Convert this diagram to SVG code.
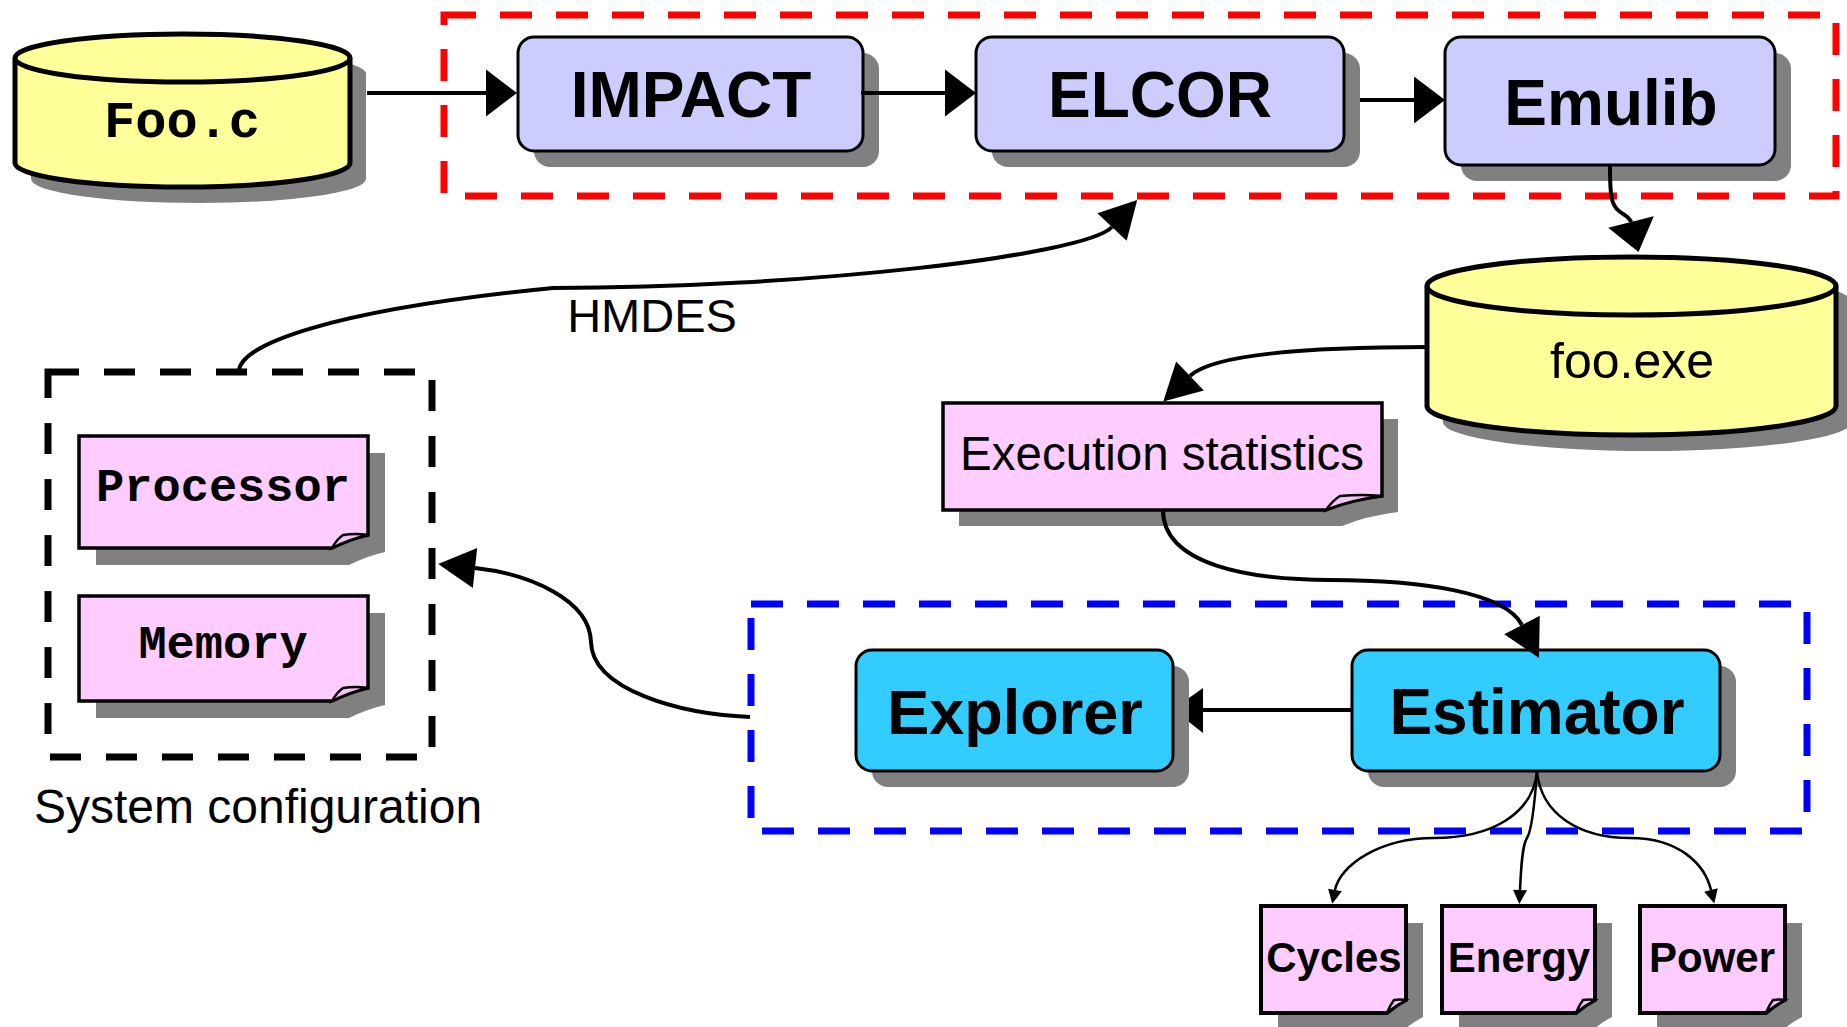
<svg xmlns="http://www.w3.org/2000/svg" width="1847" height="1027" viewBox="0 0 1847 1027">
<style>
.shadow{fill:#808080;stroke:none}
.proc{fill:#CCCCFF;stroke:#000;stroke-width:3}
.est{fill:#33CCFF;stroke:#000;stroke-width:3}
.cyl{fill:#FFFF99;stroke:#000;stroke-width:5}
.note{fill:#FFCCFF;stroke:#000;stroke-width:3.5;stroke-linejoin:miter}
.fold{fill:#F4C4F4;stroke:#000;stroke-width:2.5}
.b{font-family:"Liberation Sans",Arial,sans-serif;font-weight:bold;text-anchor:middle;fill:#000}
.r{font-family:"Liberation Sans",Arial,sans-serif;text-anchor:middle;fill:#000}
.m{font-family:"Liberation Mono","Courier New",monospace;font-weight:bold;text-anchor:middle;fill:#000}
.conn{fill:none;stroke:#000;stroke-width:4}
.thin{fill:none;stroke:#000;stroke-width:2.5}
.grp{fill:none;stroke-width:7}
</style>
<defs>
<marker id="ah" markerUnits="userSpaceOnUse" refX="0" refY="0" markerWidth="40" markerHeight="50" orient="auto" overflow="visible"><path d="M0,-23.5 L31,0 L0,23.5 Z" fill="#000"/></marker>
<marker id="ahc" markerUnits="userSpaceOnUse" refX="0" refY="0" markerWidth="40" markerHeight="50" orient="auto" overflow="visible"><path d="M0,-20 L37,0 L0,20 Z" fill="#000"/></marker>
<marker id="ahs" markerUnits="userSpaceOnUse" refX="0" refY="0" markerWidth="20" markerHeight="20" orient="auto" overflow="visible"><path d="M0,-7 L14,0 L0,7 Z" fill="#000"/></marker>
</defs>

<g id="groups">
<rect id="compiler-group" class="grp" x="444" y="15" width="1392" height="181" stroke="#FF0000" stroke-dasharray="32 24"/>
<rect id="explore-group" class="grp" x="751" y="604" width="1056" height="227" stroke="#0000FF" stroke-dasharray="32 24"/>
<rect id="sysconf-group" class="grp" x="48" y="372" width="384" height="385" stroke="#000" stroke-dasharray="31 25"/>
</g>

<g id="foo-c">
<path class="shadow" transform="translate(16,16)" d="M15,58 A167.5,24 0 0 1 350,58 V163 A167.5,24 0 0 1 15,163 Z"/>
<path class="cyl" d="M15,58 A167.5,24 0 0 1 350,58 V163 A167.5,24 0 0 1 15,163 Z"/>
<path class="cyl" style="fill:none" d="M15,58 A167.5,24 0 0 0 350,58"/>
<text class="m" x="182" y="137" font-size="52">Foo.c</text>
</g>

<g id="impact">
<rect class="shadow" x="534" y="53" width="345" height="114" rx="16"/>
<rect class="proc" x="518" y="37" width="345" height="114" rx="16"/>
<text class="b" x="691" y="117" font-size="64">IMPACT</text>
</g>

<g id="elcor">
<rect class="shadow" x="992" y="53" width="368" height="114" rx="16"/>
<rect class="proc" x="976" y="37" width="368" height="114" rx="16"/>
<text class="b" x="1160" y="117" font-size="64">ELCOR</text>
</g>

<g id="emulib">
<rect class="shadow" x="1461" y="53" width="330" height="128" rx="16"/>
<rect class="proc" x="1445" y="37" width="330" height="128" rx="16"/>
<text class="b" x="1611" y="125" font-size="64">Emulib</text>
</g>

<g id="foo-exe">
<path class="shadow" transform="translate(16,16)" d="M1427,286 A204.5,29 0 0 1 1836,286 V406 A204.5,29 0 0 1 1427,406 Z"/>
<path class="cyl" d="M1427,286 A204.5,29 0 0 1 1836,286 V406 A204.5,29 0 0 1 1427,406 Z"/>
<path class="cyl" style="fill:none" d="M1427,286 A204.5,29 0 0 0 1836,286"/>
<text class="r" x="1632" y="378" font-size="50">foo.exe</text>
</g>

<g id="exec-stats">
<path class="shadow" transform="translate(16,16)" d="M943,403 H1382 V496 Q1350,500 1326,510 H943 Z"/>
<path class="note" d="M943,403 H1382 V496 Q1350,500 1326,510 H943 Z"/>
<path class="fold" d="M1326,510 Q1333,500 1340,496 Q1362,494 1382,496 Q1350,500 1326,510 Z"/>
<text class="r" x="1162" y="470" font-size="47.5">Execution statistics</text>
</g>

<g id="processor">
<path class="shadow" transform="translate(17,17)" d="M79,436 H368 V535 Q350,539 332,548 H79 Z"/>
<path class="note" d="M79,436 H368 V535 Q350,539 332,548 H79 Z"/>
<path class="fold" d="M332,548 Q337,539 343,535 Q356,533 368,535 Q350,539 332,548 Z"/>
<text class="m" x="223" y="501" font-size="47">Processor</text>
</g>

<g id="memory">
<path class="shadow" transform="translate(17,17)" d="M79,596 H368 V688 Q350,692 332,701 H79 Z"/>
<path class="note" d="M79,596 H368 V688 Q350,692 332,701 H79 Z"/>
<path class="fold" d="M332,701 Q337,692 343,688 Q356,686 368,688 Q350,692 332,701 Z"/>
<text class="m" x="223" y="658" font-size="47">Memory</text>
</g>

<g id="explorer">
<rect class="shadow" x="872" y="666" width="317" height="121" rx="16"/>
<rect class="est" x="856" y="650" width="317" height="121" rx="16"/>
<text class="b" x="1015" y="734" font-size="63">Explorer</text>
</g>

<g id="estimator">
<rect class="shadow" x="1368" y="666" width="368" height="121" rx="16"/>
<rect class="est" x="1352" y="650" width="368" height="121" rx="16"/>
<text class="b" x="1537" y="734" font-size="64">Estimator</text>
</g>

<g id="cycles">
<path class="shadow" transform="translate(17,17)" d="M1261,906 H1406 V1000 Q1396,1005 1387,1013 H1261 Z"/>
<path class="note" style="stroke-width:4" d="M1261,906 H1406 V1000 Q1396,1005 1387,1013 H1261 Z"/>
<path class="fold" d="M1387,1013 Q1390,1005 1394,1000 Q1400,999 1406,1000 Q1396,1005 1387,1013 Z"/>
<text class="b" x="1334" y="972" font-size="42">Cycles</text>
</g>

<g id="energy">
<path class="shadow" transform="translate(17,17)" d="M1442,906 H1595 V1000 Q1585,1005 1576,1013 H1442 Z"/>
<path class="note" style="stroke-width:4" d="M1442,906 H1595 V1000 Q1585,1005 1576,1013 H1442 Z"/>
<path class="fold" d="M1576,1013 Q1579,1005 1583,1000 Q1589,999 1595,1000 Q1585,1005 1576,1013 Z"/>
<text class="b" x="1519" y="972" font-size="42">Energy</text>
</g>

<g id="power">
<path class="shadow" transform="translate(17,17)" d="M1640,906 H1785 V1000 Q1775,1005 1766,1013 H1640 Z"/>
<path class="note" style="stroke-width:4" d="M1640,906 H1785 V1000 Q1775,1005 1766,1013 H1640 Z"/>
<path class="fold" d="M1766,1013 Q1769,1005 1773,1000 Q1779,999 1785,1000 Q1775,1005 1766,1013 Z"/>
<text class="b" x="1712" y="972" font-size="42">Power</text>
</g>

<g id="labels">
<text class="r" x="258" y="823" font-size="48">System configuration</text>
</g>

<g id="connectors">
<path class="conn" d="M367,93 H486" marker-end="url(#ah)"/>
<path class="conn" d="M861,93 H945" marker-end="url(#ah)"/>
<path class="conn" d="M1360,100 H1414" marker-end="url(#ah)"/>
<path class="conn" d="M1610,165 C1610,195 1611,205 1619,211 C1627,217 1630,218 1631,222" marker-end="url(#ah)"/>
<path class="conn" d="M1428,347 C1330,347 1215,352 1190,376" marker-end="url(#ahc)"/>
<path class="conn" d="M1163,510 C1163,565 1250,580 1330,580 C1420,580 1505,592 1522,625" marker-end="url(#ahc)"/>
<path class="conn" d="M1352,710 H1203"/>
<polygon points="1189,698 1203,688 1203,733 1189,722" fill="#000"/>
<path class="conn" d="M750,717 C680,714 592,690 591,642 C590,600 530,574 475,568" marker-end="url(#ahc)"/>
<path class="conn" d="M239,372 C238,345 330,310 553,288 C800,288 1085,256 1112,227" marker-end="url(#ahc)"/>
<text class="r" x="652" y="332" font-size="47">HMDES</text>
<path class="thin" d="M1537,771 C1533,815 1490,838 1434,838 C1380,838 1340,865 1335,890" marker-end="url(#ahs)"/>
<path class="thin" d="M1537,771 C1535,800 1532,830 1527,838 C1522,845 1521,870 1520,890" marker-end="url(#ahs)"/>
<path class="thin" d="M1537,771 C1541,815 1580,838 1630,838 C1680,838 1705,865 1711,890" marker-end="url(#ahs)"/>
</g>
</svg>
